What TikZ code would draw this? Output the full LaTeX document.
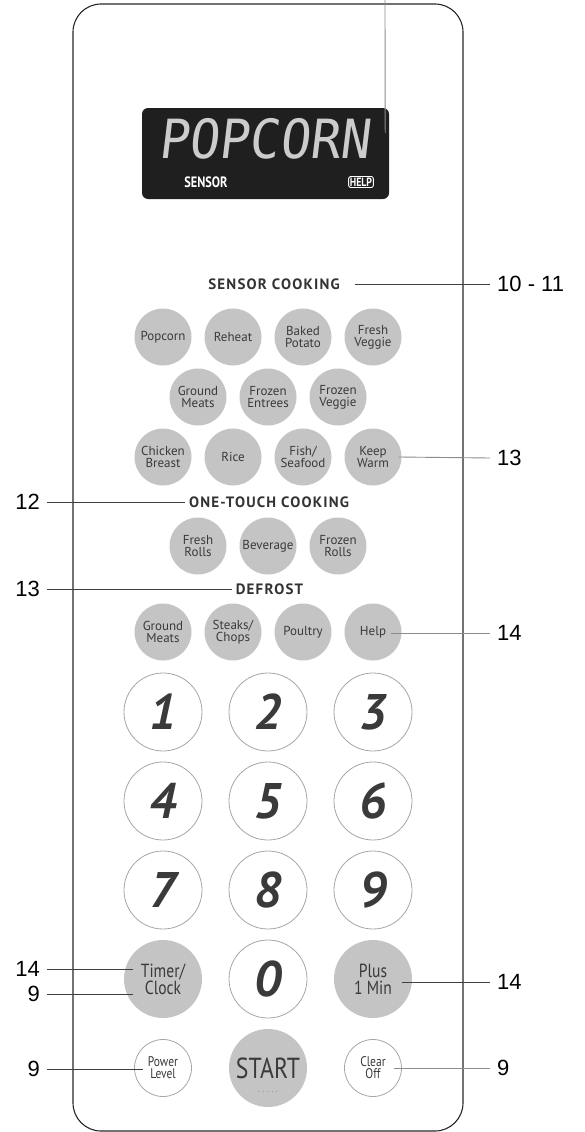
\documentclass[tikz,border=0pt]{standalone}
\usepackage{fontspec}
\setmainfont{PT Sans}
\newfontfamily\calloutfont{Liberation Sans}
\newfontfamily\headfont[LetterSpace=8]{PT Sans}
\newfontfamily\narrowfont[FakeStretch=0.82]{PT Sans}
\newfontfamily\lcdfont[FakeSlant=0.12,FakeStretch=0.93]{DejaVu Sans Mono}
\usepackage{tikz}
\usetikzlibrary{positioning}
\definecolor{keygray}{HTML}{C4C4C4}
\definecolor{inkgray}{HTML}{3A3A3A}
\definecolor{ringgray}{HTML}{A6A6A6}

\begin{document}
\begin{tikzpicture}[x=1pt,y=-1pt,node distance=70pt,on grid,
    panel/.style={draw=black!85,line width=1.1pt,rounded corners=28pt},
    lcd/.style={fill=black!88,rounded corners=6pt,minimum width=247pt,minimum height=91pt},
    heading/.style={text=black!80,font={\headfont\bfseries\fontsize{15}{15}\selectfont}},
    softkey/.style={circle,fill=keygray,minimum size=57pt,inner sep=0pt,align=center,
      text=inkgray,font={\fontsize{13}{12}\selectfont}},
    bigkey/.style={softkey,minimum size=78pt,font={\narrowfont\fontsize{19}{17}\selectfont}},
    numkey/.style={circle,draw=ringgray,line width=0.8pt,minimum size=78pt,inner sep=0pt,
      text=inkgray,font={\bfseries\itshape\fontsize{50}{50}\selectfont}},
    plainkey/.style={softkey,fill=none,draw=ringgray,line width=0.8pt,font={\narrowfont\fontsize{14}{12}\selectfont}},
    num/.style={inner sep=0pt,font={\calloutfont\fontsize{22}{22}\selectfont}},
    callout/.style={draw=black!75,line width=0.9pt},
    faint/.style={draw=black!45,line width=0.9pt}]
  \useasboundingbox (0,0) rectangle (585,1132);

  % case and display
  \draw[panel] (73,4) rectangle (463,1131);
  \node[lcd] (display) at (265.5,153.5) {};
  \node[text=white!80!black,font={\lcdfont\fontsize{54}{54}\selectfont}] (readout) at (264,139) {POPCORN};
  \node[text=white,font={\narrowfont\bfseries\fontsize{15}{15}\selectfont}] (sensorflag) at (206,182) {SENSOR};
  \node[draw=white,line width=0.9pt,rounded corners=2pt,inner sep=1.2pt,text=white,
    font={\narrowfont\bfseries\fontsize{12}{12}\selectfont}] (helpflag) at (361,182) {HELP};
  \coordinate (tiptop) at (385,0);
  \draw[faint] (tiptop) -- ([xshift=-4pt,yshift=-25pt]display.north east);

  % sensor cooking
  \node[heading] (sensorhd) at (274,284) {SENSOR COOKING};
  \node[softkey] (popcorn) at (163,337) {Popcorn};
  \node[softkey] (reheat) [right=of popcorn] {Reheat};
  \node[softkey] (potato) [right=of reheat] {Baked\\Potato};
  \node[softkey] (freshveg) [right=of potato] {Fresh\\Veggie};
  \node[softkey] (gmeats) [below right=60pt and 35pt of popcorn] {Ground\\Meats};
  \node[softkey] (entrees) [right=of gmeats] {Frozen\\Entrees};
  \node[softkey] (frozveg) [right=of entrees] {Frozen\\Veggie};
  \node[softkey] (chicken) [below=120pt of popcorn] {Chicken\\Breast};
  \node[softkey] (rice) [right=of chicken] {Rice};
  \node[softkey] (fish) [right=of rice] {Fish/\\Seafood};
  \node[softkey] (warm) [right=of fish] {Keep\\Warm};

  % one-touch cooking
  \node[heading] (onehd) at (269,502) {ONE-TOUCH COOKING};
  \node[softkey] (frolls) at (198,546) {Fresh\\Rolls};
  \node[softkey] (beverage) [right=of frolls] {Beverage};
  \node[softkey] (zrolls) [right=of beverage] {Frozen\\Rolls};

  % defrost
  \node[heading] (defrosthd) at (269.5,589) {DEFROST};
  \node[softkey] (dmeats) at (163,632) {Ground\\Meats};
  \node[softkey] (chops) [right=of dmeats] {Steaks/\\Chops};
  \node[softkey] (poultry) [right=of chops] {Poultry};
  \node[softkey] (help) [right=of poultry] {Help};

  % number pad
  \node[numkey] (k1) at (163,712) {1};
  \node[numkey] (k2) [right=105pt of k1] {2};
  \node[numkey] (k3) [right=105pt of k2] {3};
  \node[numkey] (k4) [below=89pt of k1] {4};
  \node[numkey] (k5) [right=105pt of k4] {5};
  \node[numkey] (k6) [right=105pt of k5] {6};
  \node[numkey] (k7) [below=89pt of k4] {7};
  \node[numkey] (k8) [right=105pt of k7] {8};
  \node[numkey] (k9) [right=105pt of k8] {9};
  \node[bigkey] (timer) [below=89pt of k7] {Timer/\\Clock};
  \node[numkey] (k0) [right=105pt of timer] {0};
  \node[bigkey] (plus) [right=105pt of k0] {Plus\\1 Min};
  \node[plainkey] (power) [below=89pt of timer] {Power\\Level};
  \node[bigkey,font={\narrowfont\fontsize{29}{29}\selectfont}] (start) [right=105pt of power] {START};
  \node[text=inkgray,font={\fontsize{6}{6}\selectfont}] (startdots) [below=24pt of start] {.\ \ .\ \ .\ \ .\ \ .};
  \node[plainkey] (clear) [right=105pt of start] {Clear\\Off};

  % callouts
  \node[num,anchor=west] (c1011) at (497,284) {10 - 11};
  \node[num,anchor=west] (c13a) at (497,458) {13};
  \node[num,anchor=east] (c12) at (40,502) {12};
  \node[num,anchor=east] (c13b) at (40,589) {13};
  \node[num,anchor=west] (c14a) at (497,633) {14};
  \node[num,anchor=east] (c14b) at (40,969) {14};
  \node[num,anchor=east] (c9a) at (40,994) {9};
  \node[num,anchor=west] (c14c) at (497,982) {14};
  \node[num,anchor=east] (c9b) at (40,1069) {9};
  \node[num,anchor=west] (c9c) at (497,1068) {9};

  \draw[callout] ([xshift=12pt]sensorhd.east) -- ([xshift=-7pt]c1011.west);
  \draw[faint] ([xshift=-3pt]warm.east) -- ([xshift=-7pt]c13a.west);
  \draw[callout] ([xshift=7pt]c12.east) -- (onehd.west);
  \draw[callout] ([xshift=7pt]c13b.east) -- (defrosthd.west);
  \draw[faint] ([xshift=-11pt,yshift=-1pt]help.east) -- ([xshift=-7pt]c14a.west);
  \draw[callout] ([xshift=7pt]c14b.east) -- ([xshift=9pt,yshift=10pt]timer.west);
  \draw[callout] ([xshift=7pt]c9a.east) -- ([xshift=9pt,yshift=-15pt]timer.west);
  \draw[callout] ([xshift=-10pt,yshift=-3pt]plus.east) -- ([xshift=-7pt]c14c.west);
  \draw[callout] ([xshift=7pt]c9b.east) -- ([xshift=9pt,yshift=-1pt]power.west);
  \draw[faint] ([xshift=-8pt]clear.east) -- ([xshift=-7pt]c9c.west);
\end{tikzpicture}
\end{document}
